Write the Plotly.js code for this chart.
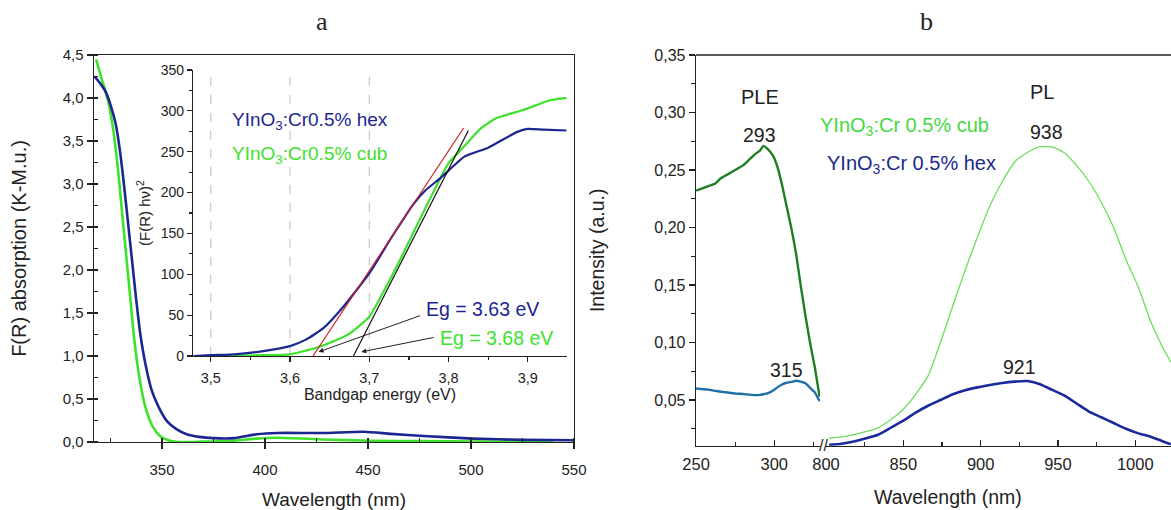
<!DOCTYPE html>
<html><head><meta charset="utf-8">
<script src="https://cdn.plot.ly/plotly-3.0.1.min.js"></script>
<style>html,body{margin:0;padding:0;background:#fff}#plot{width:1171px;height:510px}</style>
</head><body><div id="plot"></div>
<script>
// ---- Panel a: main absorption spectra ----
const wlCubA = [318, 321, 324, 326.5, 328.5, 330.5, 332.5, 334.5, 336.5, 339, 342, 345.5, 349, 353, 358, 370, 385, 396, 406, 428, 452, 477, 500, 540];
const absCubA = [4.45, 4.2, 3.95, 3.6, 3.2, 2.7, 2.2, 1.7, 1.2, 0.75, 0.4, 0.18, 0.07, 0.02, 0.0, 0.005, 0.015, 0.04, 0.05, 0.03, 0.015, 0.01, 0.005, 0.0];
const wlHexA = [317.3, 320, 322.5, 325, 327.5, 329.5, 331.5, 333.5, 335.5, 337.5, 339.5, 342, 345, 348.5, 352.5, 357, 362, 368, 375, 385, 396, 406, 428, 448, 461, 477, 501, 525, 550];
const absHexA = [4.25, 4.17, 4.08, 3.92, 3.7, 3.4, 3.0, 2.55, 2.1, 1.65, 1.25, 0.9, 0.6, 0.4, 0.24, 0.15, 0.09, 0.06, 0.045, 0.045, 0.09, 0.105, 0.105, 0.12, 0.095, 0.07, 0.04, 0.025, 0.02];

// ---- Panel a inset: Tauc plot ----
const eHex = [3.478, 3.50, 3.53, 3.56, 3.58, 3.60, 3.62, 3.642, 3.667, 3.70, 3.726, 3.74, 3.755, 3.77, 3.79, 3.82, 3.85, 3.886, 3.90, 3.92, 3.949];
const fHex = [0, 1, 2, 5, 8, 12, 20, 34, 60, 101, 142, 163, 185, 202, 218, 244, 255, 274, 278, 277, 276];
const eCub = [3.478, 3.52, 3.56, 3.60, 3.633, 3.655, 3.676, 3.70, 3.717, 3.742, 3.755, 3.78, 3.80, 3.823, 3.84, 3.86, 3.894, 3.928, 3.949];
const fCub = [0, 0, 1, 2, 10, 18, 28, 48, 77, 124, 150, 199, 236, 260, 278, 291, 301, 313, 316];
const tanHexE = [3.629, 3.819];
const tanHexF = [0, 279];
const tanCubE = [3.68, 3.825];
const tanCubF = [0, 276];
const gridE = [3.5, 3.6, 3.7];

// ---- Panel b: PLE ----
const pleWl = [250, 254, 258, 262, 266, 270, 275, 280, 284, 288, 291, 293, 296, 299, 302, 305, 308, 311, 314, 317, 320, 323, 326, 329];
const pleCub = [0.232, 0.234, 0.236, 0.238, 0.243, 0.246, 0.25, 0.254, 0.259, 0.264, 0.267, 0.271, 0.268, 0.263, 0.253, 0.237, 0.218, 0.199, 0.177, 0.149, 0.123, 0.099, 0.078, 0.053];
const pleHex = [0.060, 0.0595, 0.059, 0.058, 0.0572, 0.0565, 0.0557, 0.0552, 0.0547, 0.0543, 0.0545, 0.055, 0.056, 0.058, 0.061, 0.0635, 0.065, 0.0658, 0.0668, 0.066, 0.0645, 0.0605, 0.0565, 0.049];

// ---- Panel b: PL ----
const plWl = [802, 810, 818, 826, 834, 842, 850, 858, 866, 874, 882, 890, 898, 906, 914, 922, 930, 938, 946, 954, 962, 970, 978, 986, 994, 1002, 1010, 1018, 1023];
const plCub = [0.017, 0.018, 0.020, 0.0225, 0.026, 0.033, 0.042, 0.055, 0.071, 0.100, 0.132, 0.163, 0.192, 0.219, 0.240, 0.257, 0.265, 0.270, 0.270, 0.265, 0.254, 0.240, 0.222, 0.200, 0.172, 0.148, 0.118, 0.095, 0.083];
const plHex = [0.011, 0.012, 0.014, 0.0167, 0.020, 0.026, 0.032, 0.039, 0.045, 0.050, 0.055, 0.0585, 0.061, 0.063, 0.0648, 0.066, 0.0665, 0.064, 0.059, 0.054, 0.047, 0.040, 0.035, 0.030, 0.025, 0.021, 0.018, 0.014, 0.0115];

const BLUE = '#1c2690', GREEN = '#3ee22c', INK = '#222222';
const FONT = 'Liberation Sans, Arial, sans-serif';

const traces = [
  {x: wlCubA, y: absCubA, xaxis: 'x', yaxis: 'y', mode: 'lines', line: {color: GREEN, width: 2.6, shape: 'spline', smoothing: 0.6}},
  {x: wlHexA, y: absHexA, xaxis: 'x', yaxis: 'y', mode: 'lines', line: {color: BLUE, width: 2.6, shape: 'spline', smoothing: 0.6}},
  {x: eCub, y: fCub, xaxis: 'x2', yaxis: 'y2', mode: 'lines', line: {color: GREEN, width: 2.2, shape: 'spline', smoothing: 0.5}},
  {x: eHex, y: fHex, xaxis: 'x2', yaxis: 'y2', mode: 'lines', line: {color: BLUE, width: 2.2, shape: 'spline', smoothing: 0.5}},
  {x: tanHexE, y: tanHexF, xaxis: 'x2', yaxis: 'y2', mode: 'lines', line: {color: '#cc2222', width: 1.2}},
  {x: tanCubE, y: tanCubF, xaxis: 'x2', yaxis: 'y2', mode: 'lines', line: {color: '#111111', width: 1.2}},
  {x: pleWl, y: pleCub, xaxis: 'x3', yaxis: 'y3', mode: 'lines', line: {color: '#1f7d24', width: 2.4, shape: 'spline', smoothing: 0.4}},
  {x: pleWl, y: pleHex, xaxis: 'x3', yaxis: 'y3', mode: 'lines', line: {color: '#2070a8', width: 2.4, shape: 'spline', smoothing: 0.4}},
  {x: plWl, y: plCub, xaxis: 'x4', yaxis: 'y3', mode: 'lines', line: {color: '#6fdc5e', width: 1.3, shape: 'spline', smoothing: 0.6}},
  {x: plWl, y: plHex, xaxis: 'x4', yaxis: 'y3', mode: 'lines', line: {color: '#1a2a9c', width: 2.6, shape: 'spline', smoothing: 0.6}}
];

const axBase = {showgrid: false, zeroline: false, showline: true, linecolor: INK, linewidth: 1.4,
  tickcolor: INK, tickwidth: 1.2, automargin: false, tickfont: {family: FONT, size: 15, color: INK}};

const shapes = gridE.map(e => ({type: 'line', xref: 'x2', yref: 'y2', x0: e, x1: e, y0: 0, y1: 350,
  line: {color: '#bdbdbd', width: 1, dash: 'dash'}, layer: 'below'}));
shapes.push({type: 'line', xref: 'paper', yref: 'paper', x0: 0.5944, x1: 1, y0: 0.8922, y1: 0.8922, line: {color: INK, width: 1.4}});

const ann = (o) => Object.assign({showarrow: false, xanchor: 'center', yanchor: 'middle', font: {family: FONT, size: 16, color: INK}}, o);

const annotations = [
  ann({xref: 'paper', yref: 'paper', x: 0.275, y: 0.957, text: 'a', font: {family: 'Liberation Serif, Times New Roman, serif', size: 26, color: INK}}),
  ann({xref: 'paper', yref: 'paper', x: 0.791, y: 0.957, text: 'b', font: {family: 'Liberation Serif, Times New Roman, serif', size: 26, color: INK}}),
  ann({xref: 'x2', yref: 'y2', x: 3.524, y: 287, xanchor: 'left', text: 'YInO<sub>3</sub>:Cr0.5% hex', font: {family: FONT, size: 19, color: BLUE}}),
  ann({xref: 'x2', yref: 'y2', x: 3.524, y: 246, xanchor: 'left', text: 'YInO<sub>3</sub>:Cr0.5% cub', font: {family: FONT, size: 19, color: GREEN}}),
  ann({xref: 'x2', yref: 'y2', x: 3.843, y: 57, text: 'Eg = 3.63 eV', font: {family: FONT, size: 19.5, color: BLUE}}),
  ann({xref: 'x2', yref: 'y2', x: 3.861, y: 22, text: 'Eg = 3.68 eV', font: {family: FONT, size: 19.5, color: GREEN}}),
  {xref: 'x2', yref: 'y2', axref: 'x2', ayref: 'y2', x: 3.636, y: 5, ax: 3.766, ay: 50, text: '', showarrow: true, arrowhead: 2, arrowsize: 1, arrowwidth: 1, arrowcolor: INK},
  {xref: 'x2', yref: 'y2', axref: 'x2', ayref: 'y2', x: 3.69, y: 5, ax: 3.783, ay: 23, text: '', showarrow: true, arrowhead: 2, arrowsize: 1, arrowwidth: 1, arrowcolor: INK},
  ann({xref: 'x3', yref: 'y3', x: 290.8, y: 0.3137, text: 'PLE', font: {family: FONT, size: 20, color: INK}}),
  ann({xref: 'x3', yref: 'y3', x: 290.8, y: 0.2804, text: '293', font: {family: FONT, size: 19.5, color: INK}}),
  ann({xref: 'x3', yref: 'y3', x: 307.8, y: 0.0761, text: '315', font: {family: FONT, size: 19.5, color: INK}}),
  ann({xref: 'x4', yref: 'y3', x: 939.5, y: 0.3181, text: 'PL', font: {family: FONT, size: 20, color: INK}}),
  ann({xref: 'x4', yref: 'y3', x: 942.7, y: 0.2833, text: '938', font: {family: FONT, size: 19.5, color: INK}}),
  ann({xref: 'x4', yref: 'y3', x: 925.4, y: 0.079, text: '921', font: {family: FONT, size: 19.5, color: INK}}),
  ann({xref: 'paper', yref: 'paper', x: 0.6985, y: 0.7516, xanchor: 'left', text: 'YInO<sub>3</sub>:Cr 0.5% cub', font: {family: FONT, size: 20, color: '#44d844'}}),
  ann({xref: 'paper', yref: 'paper', x: 0.7045, y: 0.6765, xanchor: 'left', text: 'YInO<sub>3</sub>:Cr 0.5% hex', font: {family: FONT, size: 20, color: '#1c2a8c'}}),
  ann({xref: 'paper', yref: 'paper', x: 0.7035, y: 0.1255, text: '//', font: {family: FONT, size: 16, color: INK}}),
  ann({xref: 'paper', yref: 'paper', x: 0.8096, y: 0.0255, text: 'Wavelength (nm)', font: {family: FONT, size: 19.5, color: INK}})
];

const layout = {
  width: 1171, height: 510, margin: {l: 0, r: 0, t: 0, b: 0},
  paper_bgcolor: '#ffffff', plot_bgcolor: 'rgba(0,0,0,0)', showlegend: false,
  separators: ',.', font: {family: FONT, color: INK},
  xaxis: Object.assign({}, axBase, {domain: [0.0803, 0.4902], range: [317, 550], anchor: 'y', mirror: true,
    tick0: 350, dtick: 50, ticks: 'outside', ticklen: 6, ticklabelstandoff: 8,
    minor: {ticks: 'inside', ticklen: 4, tick0: 325, dtick: 25, tickcolor: INK},
    title: {text: 'Wavelength (nm)', font: {family: FONT, size: 19, color: INK}, standoff: 15}}),
  yaxis: Object.assign({}, axBase, {domain: [0.1333, 0.8922], range: [0, 4.5], anchor: 'x', mirror: true,
    tick0: 0, dtick: 0.5, tickformat: '.1f', ticks: 'outside', ticklen: 6,
    minor: {ticks: 'inside', ticklen: 4, tick0: 0.25, dtick: 0.25, tickcolor: INK},
    title: {text: 'F(R) absorption (K-M.u.)', font: {family: FONT, size: 20, color: INK}, standoff: 30}}),
  xaxis2: Object.assign({}, axBase, {domain: [0.1651, 0.4839], range: [3.478, 3.949], anchor: 'y2',
    tick0: 3.5, dtick: 0.1, tickformat: '.1f', ticks: 'outside', ticklen: 5, ticklabelstandoff: 3,
    tickfont: {family: FONT, size: 14.5, color: INK},
    minor: {ticks: 'outside', ticklen: 3, tick0: 3.55, dtick: 0.05, tickcolor: INK},
    title: {text: 'Bandgap energy (eV)', font: {family: FONT, size: 16, color: INK}, standoff: 4}}),
  yaxis2: Object.assign({}, axBase, {domain: [0.302, 0.8627], range: [0, 350], anchor: 'x2',
    tick0: 0, dtick: 50, ticks: 'outside', ticklen: 5, tickfont: {family: FONT, size: 14, color: INK},
    minor: {ticks: 'outside', ticklen: 3, tick0: 25, dtick: 25, tickcolor: INK},
    title: {text: '(F(R) hν)<sup>2</sup>', font: {family: FONT, size: 15, color: INK}, standoff: 6}}),
  xaxis3: Object.assign({}, axBase, {domain: [0.5944, 0.7003], range: [250, 329.3], anchor: 'y3',
    tick0: 250, dtick: 50, ticks: 'inside', ticklen: 6, ticklabelstandoff: 3, tickfont: {family: FONT, size: 16.5, color: INK},
    minor: {ticks: 'inside', ticklen: 4, tick0: 275, dtick: 25, tickcolor: INK}}),
  xaxis4: Object.assign({}, axBase, {domain: [0.7054, 1], range: [800, 1023.1], anchor: 'y3',
    tick0: 800, dtick: 50, ticks: 'inside', ticklen: 6, ticklabelstandoff: 3, tickfont: {family: FONT, size: 16.5, color: INK},
    minor: {ticks: 'inside', ticklen: 4, tick0: 825, dtick: 25, tickcolor: INK}}),
  yaxis3: Object.assign({}, axBase, {domain: [0.1261, 0.8922], range: [0.0103, 0.35], anchor: 'x3',
    tick0: 0.05, dtick: 0.05, tickformat: '.2f', ticks: 'outside', ticklen: 6, tickfont: {family: FONT, size: 16, color: INK},
    minor: {ticks: 'outside', ticklen: 4, tick0: 0.025, dtick: 0.025, tickcolor: INK},
    title: {text: 'Intensity (a.u.)', font: {family: FONT, size: 19.5, color: INK}, standoff: 44}}),
  shapes: shapes,
  annotations: annotations
};

Plotly.newPlot('plot', traces, layout, {staticPlot: true, displayModeBar: false});
</script>
</body></html>
